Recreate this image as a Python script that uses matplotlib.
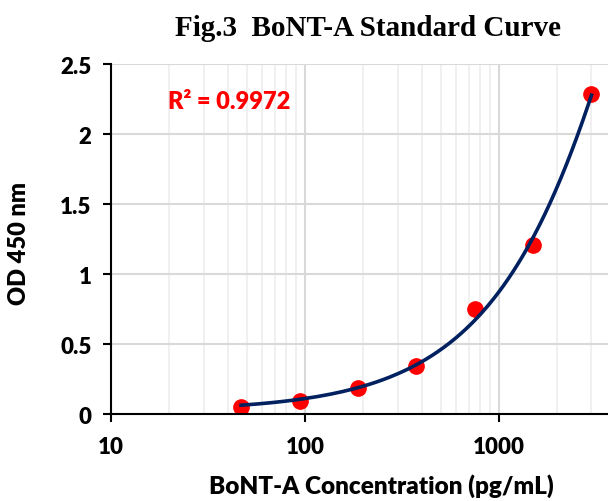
import numpy as np
import matplotlib
matplotlib.use("Agg")
import matplotlib.pyplot as plt
from matplotlib.ticker import FixedLocator, LogLocator, NullFormatter

# standard concentrations (pg/mL) and OD readings
conc = [46.875, 93.75, 187.5, 375, 750, 1500, 3000]
od = [0.05, 0.093, 0.186, 0.343, 0.75, 1.207, 2.286]
r2_text = "R² = 0.9972"
title = "Fig.3  BoNT-A Standard Curve"
xlabel = "BoNT-A Concentration (pg/mL)"
ylabel = "OD 450 nm"

fig = plt.figure(figsize=(6.08, 5.02), dpi=100)
ax = fig.add_axes([0.1826, 0.1733, 0.8174, 0.6972])

# quadratic trendline (like excel)
coef = np.polyfit(conc, od, 2)
xs = np.linspace(conc[0], conc[-1], 300)
ax.plot(xs, np.polyval(coef, xs), color="#002060", lw=2.6, zorder=3)
ax.plot(conc, od, "o", color="#ff0000", ms=11, zorder=2)

ax.set_xscale("log")
ax.set_xlim(10, 3650)
ax.set_ylim(0, 2.5)
ax.xaxis.set_major_locator(FixedLocator([10, 100, 1000]))
ax.xaxis.set_minor_locator(LogLocator(base=10, subs=np.arange(2, 10)))
ax.xaxis.set_minor_formatter(NullFormatter())
ax.set_xticklabels(["10", "100", "1000"])
ax.set_yticks([0, 0.5, 1, 1.5, 2, 2.5])
ax.set_yticklabels(["0", "0.5", "1", "1.5", "2", "2.5"])

ax.grid(True, which="major", color="#d9d9d9", lw=1.5)
ax.grid(True, which="minor", axis="x", color="#eeeeee", lw=1.2)
ax.set_axisbelow(True)

for s in ["top", "right"]:
    ax.spines[s].set_visible(False)
for s in ["left", "bottom"]:
    ax.spines[s].set_linewidth(1.5)
    ax.spines[s].set_color("black")

wt = "heavy"
ax.tick_params(which="major", length=6, width=1.5, direction="out")
ax.tick_params(which="minor", length=0)
for lab in ax.get_xticklabels() + ax.get_yticklabels():
    lab.set_fontfamily("Lato")
    lab.set_fontweight(wt)
    lab.set_fontsize(16)
ax.tick_params(axis="x", pad=10)
ax.tick_params(axis="y", pad=8)

ax.set_xlabel(xlabel, fontfamily="Lato", fontweight=wt, fontsize=17.5)
ax.xaxis.set_label_coords(0.543, -0.17)
ax.set_ylabel(ylabel, fontfamily="Lato", fontweight=wt, fontsize=17)
ax.yaxis.set_label_coords(-0.163, 0.49)

ax.text(0.115, 0.895, r2_text, transform=ax.transAxes, color="#ff0000",
        fontfamily="Lato", fontweight=wt, fontsize=17, va="center")

fig.text(0.605, 0.943, title, ha="center", va="center",
         fontfamily="Liberation Serif", fontweight="bold", fontsize=21)

fig.savefig("out.png", dpi=100)
